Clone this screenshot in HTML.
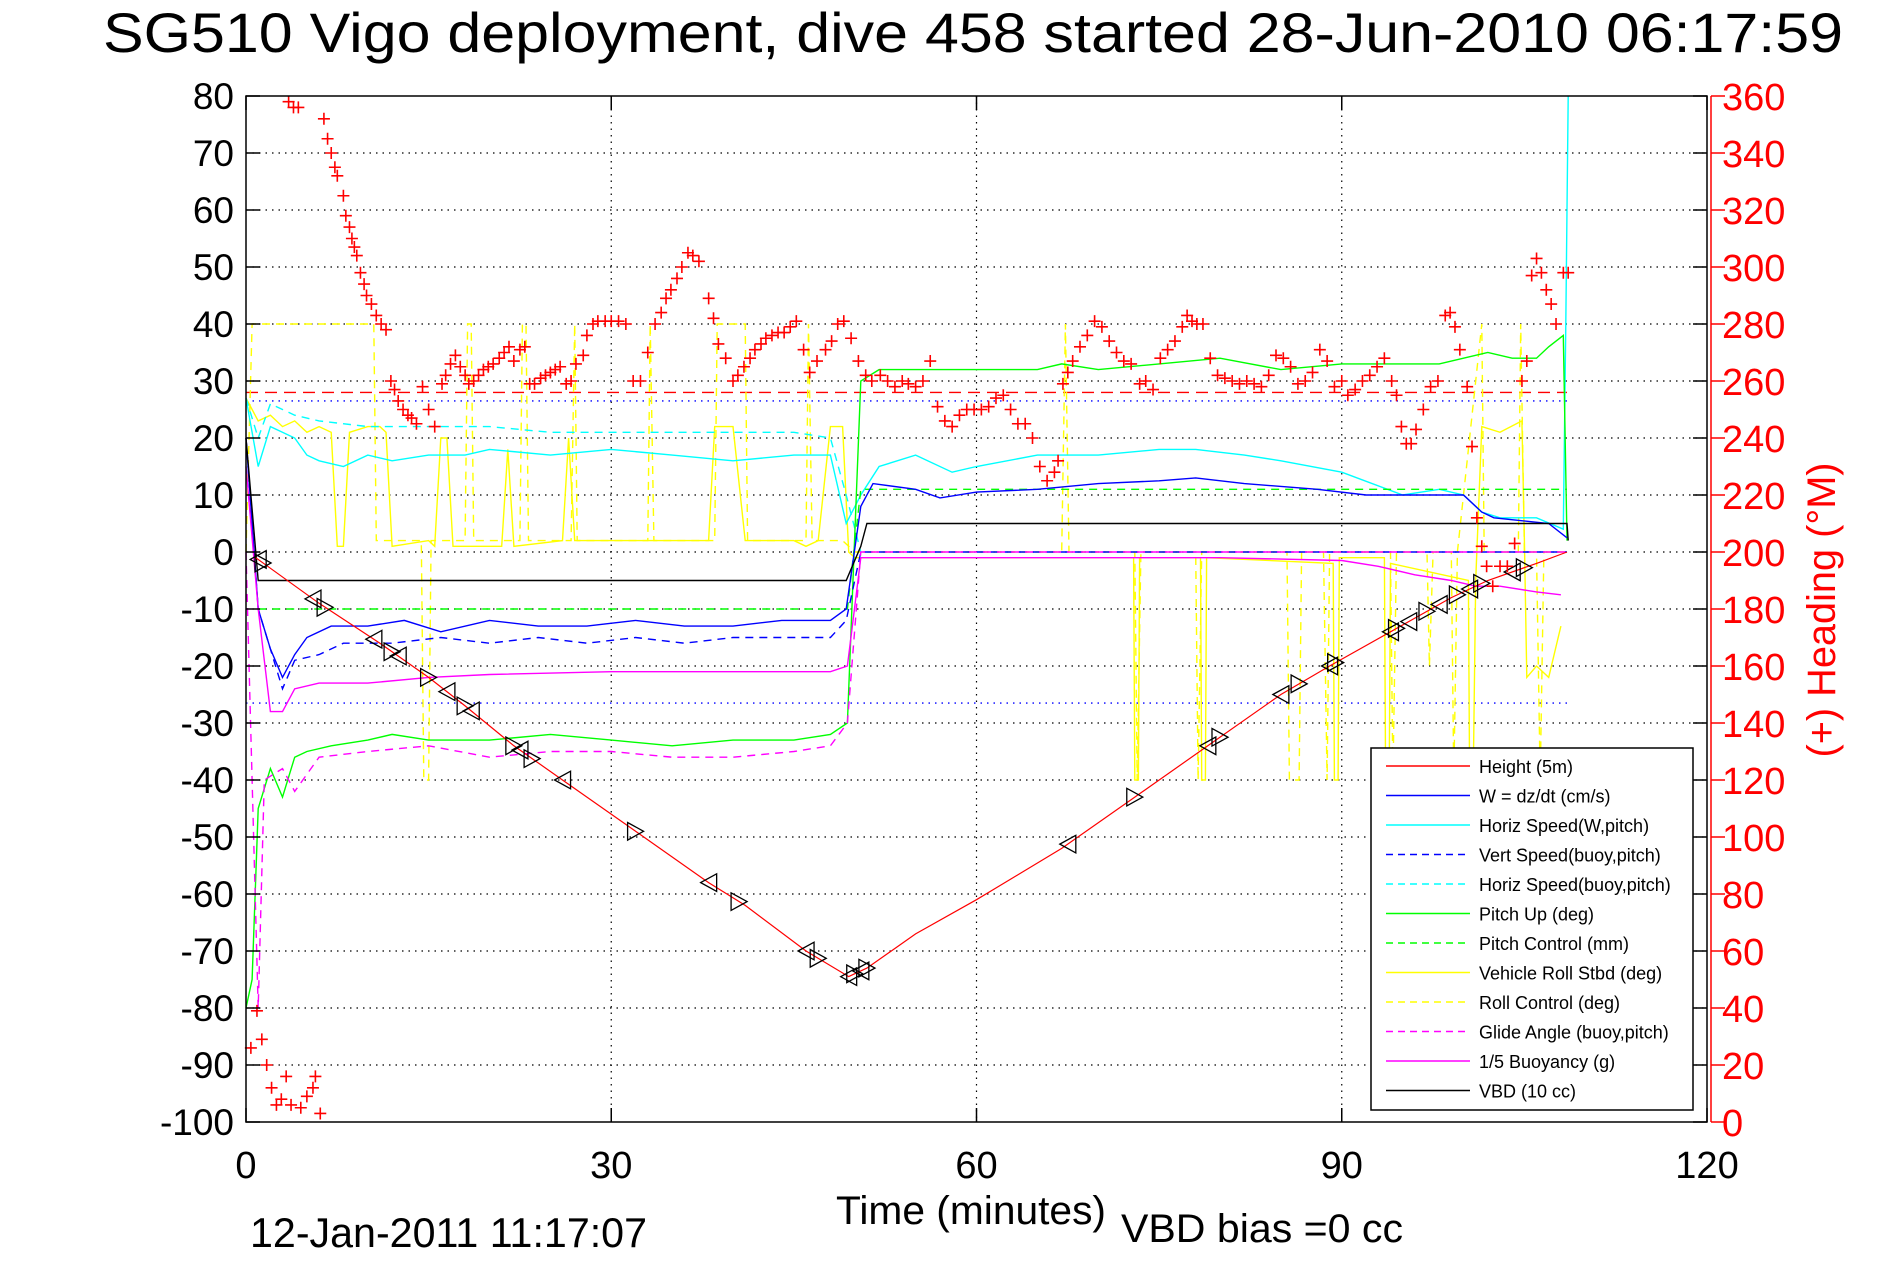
<!DOCTYPE html>
<html><head><meta charset="utf-8"><style>
body{margin:0;background:#fff;}
svg{display:block;font-family:"Liberation Sans",sans-serif;}
</style></head><body>
<svg id="c" width="1891" height="1262" viewBox="0 0 1891 1262">
<rect x="0" y="0" width="1891" height="1262" fill="#fff"/>
<text x="973" y="52" font-size="56" text-anchor="middle" textLength="1740" lengthAdjust="spacingAndGlyphs">SG510 Vigo deployment, dive 458 started 28-Jun-2010 06:17:59</text>
<g id="grid"></g><g id="series"></g><g id="axes"></g>
<text x="971" y="1224" font-size="40" text-anchor="middle" textLength="270" lengthAdjust="spacingAndGlyphs">Time (minutes)</text>
<text x="1121" y="1242" font-size="40" textLength="282" lengthAdjust="spacingAndGlyphs">VBD bias =0 cc</text>
<text x="250" y="1247" font-size="42" textLength="397" lengthAdjust="spacingAndGlyphs">12-Jan-2011 11:17:07</text>
<text transform="translate(1835,610) rotate(-90)" font-size="40" fill="#f00" text-anchor="middle" textLength="295" lengthAdjust="spacingAndGlyphs">(+) Heading (°M)</text>
<g id="legend"></g>
</svg>
<script>
// ---- data ----
const heightT=[0.8,6,11,15,18,22,26,32,38,41,46,49.5,51,55,60,67,73,79,85,89,94,99,102,106,108.5];
const heightV=[-1,-9,-16,-22,-27,-34,-40,-49,-58,-62,-70,-74.5,-73,-67,-61,-52,-43,-34,-25,-20,-14,-8,-5,-2,0];
const markT=[1,1.4,5.5,6.5,10.5,12,12.5,15,16.5,18,18.5,22,22.5,23.5,26,32,38,40.5,46,47,49.5,50,50.5,51,67.5,73,79,80,85,86.5,89,89.5,94,94.5,95.5,97,98,99.5,100.5,101.5,104,105];
const wT=[0,1,2,3,4,5,7,10,13,16,20,24,28,32,36,40,44,48,49.3,50.5,51.5,55,57,60,65,70,75,78,82,88,92,95,100,101.5,102.5,107,108.5];
const wV=[20,-10,-17,-22,-18,-15,-13,-13,-12,-14,-12,-13,-13,-12,-13,-13,-12,-12,-10,8,12,11,9.5,10.5,11,12,12.5,13,12,11,10,10,10,7,6,5,2.5];
const vsT=[0,1,3,4,6,8,12,16,20,24,28,32,36,40,44,48,49.3,50.5,108.5];
const vsV=[20,-10,-24,-19,-18,-16,-16,-15,-16,-15,-16,-15,-16,-15,-15,-15,-12,0,0];
const hsT=[0,1,2,4,5,6,8,10,12,15,18,20,25,30,35,40,45,48,49.3,50.5,52,55,58,60,65,70,75,78,82,85,90,95,98,100,101.5,103,106,108.2,108.4,108.6];
const hsV=[27,15,22,20,17,16,15,17,16,17,17,18,17,18,17,16,17,17,5,10,15,17,14,15,17,17,18,18,17,16,14,10,11,10,7,6,6,4,40,80];
const hbT=[0,1,2,4,6,10,15,20,25,30,35,40,45,48,49.3,50.5];
const hbV=[27,20,26,24,23,22,22,22,21,21,21,21,21,20,10,0];
const pitchT=[0,0.5,1,2,3,4,5,7,10,12,15,20,25,30,35,40,45,48,49.4,50.5,52,55,60,65,67,70,75,80,85,90,95,98,100,102,104,106,107,108.2,108.5];
const pitchV=[-80,-75,-45,-38,-43,-36,-35,-34,-33,-32,-33,-33,-32,-33,-34,-33,-33,-32,-30,30,32,32,32,32,33,32,33,34,32,33,33,33,34,35,34,34,36,38,2];
const pcT=[1,49.4,50.5,108.5];
const pcV=[-10,-10,11,11];
const glideT=[0,1,1.5,3,4,6,10,15,20,25,30,35,40,45,48,49.4,50.5,108.5];
const glideV=[0,-80,-40,-38,-42,-36,-35,-34,-36,-35,-35,-36,-36,-35,-34,-30,0,0];
const buoyT=[0,1,2,3,4,6,10,15,20,30,40,48,49.4,50.5,60,70,80,90,93,96,99,101,103,106,108];
const buoyV=[15,-10,-28,-28,-24,-23,-23,-22,-21.5,-21,-21,-21,-20,-1,-1,-1,-1,-1.5,-2.5,-4,-5,-6,-6,-7,-7.5];
const vbdT=[0,1,49.3,50.5,51,108.5,108.6];
const vbdV=[20,-5,-5,1,5,5,2];
const rollT=[0,0.5,1,2,3,4,5,6,7,7.5,8,8.5,10,11,11.5,12,15,15.5,16,16.5,17,21,21.5,22,26,26.5,27,33,38,38.5,40,41,45,46,47,48,49,49.5,50,72.9,73,73.3,73.4,78.4,78.5,78.8,78.9,89.3,89.4,89.7,89.8,93.5,93.6,93.9,94,100.4,100.5,100.8,101,101.5,103,104.8,105,105.2,106,107,108];
const rollV=[27,25,23,24,22,23,21,22,21,1,1,21,22,22,21,1,2,1,20,20,1,1,18,1,2,20,2,2,2,22,22,2,2,1,2,22,22,0,-1,-1,-40,-40,-1,-1,-40,-40,-1,-2,-40,-40,-1,-1,-40,-40,-2,-5,-40,-40,-5,22,21,23,2,-22,-20,-22,-13];
const rcT=[0,0.5,10.5,10.7,14.4,14.6,15,15.2,18,18.2,18.5,18.7,22.5,22.7,23,23.2,26.7,27,27.2,33,33.2,33.5,38.5,38.7,41,41.2,46,46.2,46.5,49,50,67,67.3,67.6,73,73.2,73.5,78,78.2,78.5,85.5,85.7,86.5,86.7,88.5,88.8,89,94,94.2,94.5,97,97.2,97.5,99,99.2,99.5,101.5,101.7,104.5,104.7,105,106,106.3,106.6,108.5];
const rcV=[0,40,40,2,2,-40,-40,2,2,40,40,2,2,40,40,2,2,40,2,2,40,2,2,40,40,2,2,40,2,2,0,0,40,0,0,-40,0,0,-40,0,0,-40,-40,0,0,-40,0,0,-40,0,0,-20,0,0,-40,0,40,0,0,40,0,0,-40,0,0];
const headT=[0.4,0.9,1.3,1.7,2.1,2.5,2.9,3.3,3.7,4.5,5,5.5,5.7,6.1,3.5,3.9,4.3,6.4,6.7,7,7.3,7.5,8,8.2,8.5,8.7,8.9,9.1,9.4,9.7,9.9,10.3,10.7,11.1,11.5,11.9,12.2,12.5,12.9,13.3,13.6,14,14.5,15,15.5,16.1,16.4,16.8,17.2,17.6,18,18.3,18.7,19.1,19.5,19.9,20.3,20.8,21.2,21.6,22,22.5,22.9,23.3,23.7,24.2,24.6,25,25.4,25.8,26.3,26.7,27.1,27.7,28,28.5,28.9,29.5,30,30.6,31.2,31.8,32.4,33,33.6,34.1,34.5,34.9,35.4,35.8,36.3,36.7,37.2,38,38.4,38.8,39.4,40,40.4,40.9,41.4,41.8,42.3,42.7,43.2,43.7,44.2,44.7,45.2,45.8,46.3,46.9,47.6,48.1,48.6,49.1,49.7,50.3,50.9,51.4,52.1,52.7,53.3,53.9,54.4,55,55.6,56.2,56.8,57.4,58,58.6,59.2,59.8,60.4,61,61.6,62.2,62.8,63.4,64,64.6,65.2,65.8,66.4,66.7,67.1,67.5,67.9,68.5,69.1,69.7,70.3,70.9,71.5,72.1,72.7,73.4,73.9,74.5,75.1,75.7,76.3,76.9,77.3,77.7,78.1,78.6,79.2,79.8,80.4,81,81.6,82.2,82.8,83.4,84,84.6,85.2,85.8,86.4,87,87.6,88.2,88.8,89.4,90,90.5,91.1,91.7,92.3,92.9,93.5,94.1,94.5,94.9,95.3,95.7,96.1,96.7,97.3,97.9,98.5,98.9,99.3,99.7,100.3,100.7,101.1,101.5,101.9,102.4,103,103.6,104.2,104.8,105.2,105.6,106,106.4,106.8,107.2,107.6,108.2,108.6];
const headV=[26,39,29,20,12,6,8,16,6,5,9,12,16,3,358,356,356,352,345,340,335,332,325,318,314,310,307,304,298,294,290,287,283,280,278,260,257,253,250,248,247,245,258,250,244,259,262,266,269,265,262,259,260,262,264,265,266,268,270,272,267,271,272,259,259,261,262,263,264,265,259,260,266,269,276,280,281,281,281,281,280,260,260,270,280,284,289,292,296,300,305,304,302,289,282,273,268,260,262,265,268,271,273,275,276,277,277,279,281,271,263,267,271,274,280,281,275,267,262,260,262,260,258,260,259,258,260,267,251,246,244,248,250,250,250,251,254,255,250,245,245,240,230,225,228,232,259,263,267,272,276,281,279,274,270,267,266,259,260,257,268,271,274,279,283,281,280,280,268,262,261,260,259,260,259,258,262,269,268,265,259,260,263,271,267,258,260,255,257,260,262,265,268,260,255,244,238,238,243,250,258,260,283,284,279,271,258,237,212,202,195,188,195,195,203,260,267,297,303,298,292,287,280,298,298];
const yTicks=[80,70,60,50,40,30,20,10,0,-10,-20,-30,-40,-50,-60,-70,-80,-90,-100];
const xTicks=[0,30,60,90,120];
const hTicks=[0,20,40,60,80,100,120,140,160,180,200,220,240,260,280,300,320,340,360];
// ---- scales ----
const L=246,R=1707,T=96,B=1122;
const X=t=>L+t*(R-L)/120;
const Y=v=>T+(80-v)*(B-T)/180;
const YH=h=>B-h*(B-T)/360;
const NS='http://www.w3.org/2000/svg';
function mk(tag,parent,attrs){const e=document.createElementNS(NS,tag);for(const k in attrs)e.setAttribute(k,attrs[k]);parent.appendChild(e);return e;}
const grid=document.getElementById('grid'),series=document.getElementById('series'),axes=document.getElementById('axes'),legend=document.getElementById('legend');
yTicks.forEach(v=>{if(v===80||v===-100)return;const l=mk('line',grid,{x1:L,x2:R,y1:Y(v),y2:Y(v),stroke:'#000','stroke-width':1.2,'stroke-dasharray':'1.5 5'});

});
xTicks.forEach(t=>{if(t===0||t===120)return;const l=mk('line',grid,{x1:X(t),x2:X(t),y1:T,y2:B,stroke:'#000','stroke-width':1.2,'stroke-dasharray':'1.5 5'});

});
function poly(ts,vs,color,dash,name,w){const pts=ts.map((t,i)=>X(t).toFixed(1)+','+Y(vs[i]).toFixed(1)).join(' ');
const p=mk('polyline',series,{points:pts,fill:'none',stroke:color,'stroke-width':w||1.4});if(dash)p.setAttribute('stroke-dasharray',dash);

}
[[28,'#f00','12 7','heading-reference-line'],[26.5,'#00f','1.5 5','upper-speed-limit'],[-26.5,'#00f','1.5 5','lower-speed-limit']].forEach(r=>{const l=mk('line',series,{x1:X(0),x2:X(108.5),y1:Y(r[0]),y2:Y(r[0]),stroke:r[1],'stroke-width':1.4,'stroke-dasharray':r[2]});

});
poly(rcT,rcV,'#ff0','8 6','roll-control-line');
poly(rollT,rollV,'#ff0',null,'vehicle-roll-line');
poly(hbT,hbV,'#0ff','8 6','horiz-speed-buoy-line');
poly(hsT,hsV,'#0ff',null,'horiz-speed-w-line');
poly(pcT,pcV,'#0f0','8 6','pitch-control-line');
poly(pitchT,pitchV,'#0f0',null,'pitch-up-line');
poly(vsT,vsV,'#00f','8 6','vert-speed-buoy-line');
poly(wT,wV,'#00f',null,'w-line');
poly(glideT,glideV,'#f0f','8 6','glide-angle-line');
poly(buoyT,buoyV,'#f0f',null,'buoyancy-line');
poly(vbdT,vbdV,'#000',null,'vbd-line');
poly(heightT,heightV,'#f00',null,'height-line',1.2);
function hAt(t){for(let i=1;i<heightT.length;i++){if(t<=heightT[i]){const f=(t-heightT[i-1])/(heightT[i]-heightT[i-1]);return heightV[i-1]+f*(heightV[i]-heightV[i-1]);}}return heightV[heightV.length-1];}
markT.forEach((t,i)=>{const cx=X(t),cy=Y(hAt(t)),s=8;const d=(i%2===0)?`M${cx-s},${cy} L${cx+s},${cy-s*1.1} L${cx+s},${cy+s*1.1} Z`:`M${cx+s},${cy} L${cx-s},${cy-s*1.1} L${cx-s},${cy+s*1.1} Z`;
const p=mk('path',series,{d:d,fill:'none',stroke:'#000','stroke-width':1.3});

});
headT.forEach((t,i)=>{const cx=X(t),cy=YH(headV[i]);const p=mk('path',series,{d:`M${cx-6},${cy} H${cx+6} M${cx},${cy-6} V${cy+6}`,stroke:'#f00','stroke-width':1.6});

});
const box=mk('rect',axes,{x:L,y:T,width:R-L,height:B-T,fill:'none',stroke:'#000','stroke-width':1.5});


const ra=mk('line',axes,{x1:R+4,x2:R+4,y1:T,y2:B,stroke:'#f00','stroke-width':1.5});


yTicks.forEach(v=>{mk('line',axes,{x1:L,x2:L+14,y1:Y(v),y2:Y(v),stroke:'#000','stroke-width':1.5});mk('line',axes,{x1:R-14,x2:R,y1:Y(v),y2:Y(v),stroke:'#000','stroke-width':1.5});
const tx=mk('text',axes,{x:L-12,y:Y(v)+13,'font-size':37,'text-anchor':'end'});tx.textContent=v;

});
xTicks.forEach(t=>{mk('line',axes,{x1:X(t),x2:X(t),y1:B,y2:B-14,stroke:'#000','stroke-width':1.5});mk('line',axes,{x1:X(t),x2:X(t),y1:T,y2:T+14,stroke:'#000','stroke-width':1.5});
const tx=mk('text',axes,{x:X(t),y:1178,'font-size':38,'text-anchor':'middle'});tx.textContent=t;

});
hTicks.forEach(h=>{mk('line',axes,{x1:R+4,x2:R+18,y1:YH(h),y2:YH(h),stroke:'#f00','stroke-width':1.5});
const tx=mk('text',axes,{x:R+15,y:YH(h)+14,'font-size':38,fill:'#f00'});tx.textContent=h;

});
const lg=mk('rect',legend,{x:1371,y:748,width:322,height:362,fill:'#fff',stroke:'#000','stroke-width':1.5});


const legNames=['Height (5m)','W = dz/dt (cm/s)','Horiz Speed(W,pitch)','Vert Speed(buoy,pitch)','Horiz Speed(buoy,pitch)','Pitch Up (deg)','Pitch Control (mm)','Vehicle Roll Stbd (deg)','Roll Control (deg)','Glide Angle (buoy,pitch)','1/5 Buoyancy (g)','VBD (10 cc)'];
const legColors=['#f00','#00f','#0ff','#00f','#0ff','#0f0','#0f0','#ff0','#ff0','#f0f','#f0f','#000'];
const legDash=[0,0,0,1,1,0,1,0,1,1,0,0];
legNames.forEach((n,i)=>{const y=766+i*29.5;const g=mk('g',legend,{});


const l=mk('line',g,{x1:1386,x2:1470,y1:y,y2:y,stroke:legColors[i],'stroke-width':1.4});if(legDash[i])l.setAttribute('stroke-dasharray','7 5');
const tx=mk('text',g,{x:1479,y:y+7,'font-size':18});tx.textContent=n;});
</script>
</body></html>
